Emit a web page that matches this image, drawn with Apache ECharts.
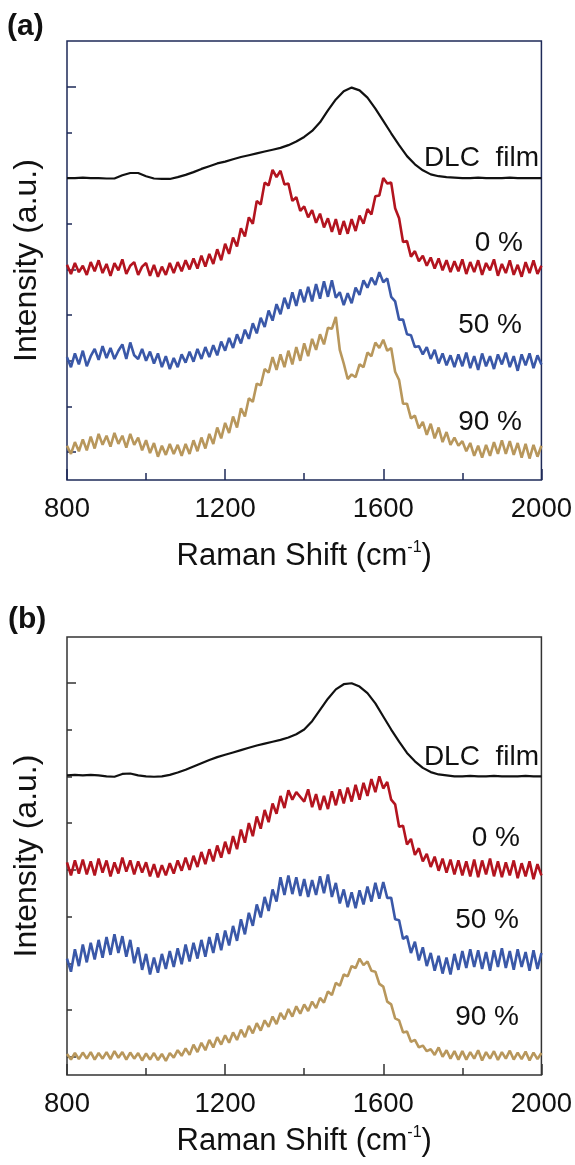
<!DOCTYPE html>
<html>
<head>
<meta charset="utf-8">
<title>raman</title>
<script src="https://cdn.jsdelivr.net/npm/echarts@6/dist/echarts.min.js"></script>
<style>
  html, body { margin: 0; padding: 0; background: #fff; }
  #main { width: 575px; height: 1165px; }
</style>
</head>
<body>
<div id="main"></div>
<script>
// Raman shift sampling: 800..2000, step 20 for DLC curves, step 10 for the noisy ones
var X_START = 800;
var seriesNames = ['DLC  film', '0 %', '50 %', '90 %'];
var colors = ['#111111', '#b3141f', '#3a58a8', '#b8975c'];

// ---- panel (a) ----
var dlcA = [6.00,6.00,6.01,6.00,6.00,5.99,5.99,6.06,6.11,6.11,6.04,5.99,5.98,5.98,6.02,6.07,6.13,6.20,6.26,6.32,
  6.36,6.41,6.46,6.50,6.54,6.58,6.62,6.66,6.72,6.80,6.90,7.03,7.22,7.48,7.72,7.90,7.98,7.92,7.76,7.52,
  7.25,6.98,6.72,6.48,6.30,6.17,6.08,6.04,6.02,6.01,6.00,6.00,6.01,6.00,6.00,6.00,6.01,6.00,6.00,6.00,6.00];
var p0A = [4.10,3.90,4.14,3.94,4.08,3.88,4.16,3.96,4.20,3.92,4.12,3.86,4.14,3.98,4.22,3.90,4.08,4.16,3.88,4.06,
  4.14,3.86,4.10,3.84,4.06,3.88,4.14,3.92,4.16,3.96,4.20,
  4.00,4.24,4.02,4.30,4.06,4.34,4.12,4.44,4.20,4.56,4.34,4.70,4.50,4.90,4.72,5.14,5.00,5.50,5.42,5.90,
  5.84,6.18,6.02,6.16,5.86,5.88,5.50,5.58,5.28,5.38,
  5.14,5.30,5.02,5.22,4.92,5.12,4.82,5.10,4.76,5.06,4.78,5.10,4.84,5.18,5.00,5.32,5.20,5.60,5.62,6.00,
  5.88,5.90,5.34,5.12,4.60,4.62,4.28,4.40,4.18,4.30,
  4.08,4.26,4.02,4.24,3.98,4.20,3.94,4.18,3.96,4.22,3.90,4.16,3.94,4.20,3.88,4.14,3.98,4.22,3.86,4.12,
  3.92,4.20,3.88,4.10,3.84,4.16,3.92,4.20,3.90,4.08];
var p50A = [2.08,1.86,2.16,1.92,2.22,1.88,2.10,2.26,2.02,2.32,2.06,2.28,2.04,2.22,2.36,2.04,2.40,2.12,2.04,2.26,
  2.00,2.20,1.94,2.16,1.86,2.10,1.82,2.06,1.86,2.14,1.96,
  2.20,1.98,2.26,2.04,2.30,2.08,2.34,2.12,2.42,2.22,2.50,2.28,2.58,2.38,2.68,2.48,2.82,2.60,2.94,2.74,
  3.10,2.88,3.24,3.02,3.38,3.14,3.50,3.20,3.56,3.28,
  3.62,3.30,3.68,3.36,3.74,3.40,3.76,3.38,3.50,3.22,3.48,3.26,3.60,3.44,3.76,3.60,3.82,3.66,3.94,3.72,
  3.80,3.40,3.30,2.90,2.90,2.58,2.56,2.30,2.32,2.14,
  2.30,2.04,2.24,1.94,2.16,1.90,2.12,1.86,2.14,1.88,2.18,1.84,2.10,1.80,2.16,1.88,2.10,1.82,2.14,1.92,
  2.18,1.86,2.10,1.78,2.14,1.90,2.16,1.84,2.12,1.92];
var p90A = [0.14,-0.04,0.22,0.02,0.28,0.04,0.34,0.08,0.40,0.16,0.36,0.12,0.42,0.18,0.36,0.10,0.40,0.16,0.32,0.04,
  0.26,-0.02,0.20,-0.10,0.14,-0.06,0.18,-0.04,0.16,-0.08,0.18,
  -0.04,0.26,0.02,0.32,0.08,0.40,0.18,0.54,0.30,0.64,0.42,0.78,0.54,0.96,0.78,1.18,1.10,1.50,1.46,1.82,
  1.74,2.08,1.80,2.14,1.86,2.22,1.92,2.30,2.00,2.38,
  2.10,2.48,2.24,2.58,2.36,2.72,2.70,2.96,2.24,1.94,1.60,1.70,1.64,1.92,1.86,2.18,2.10,2.40,2.28,2.46,
  2.22,2.28,1.76,1.58,1.06,1.06,0.74,0.80,0.52,0.66,
  0.38,0.62,0.30,0.54,0.22,0.44,0.16,0.32,0.14,0.24,0.02,0.20,-0.08,0.14,-0.12,0.16,-0.08,0.22,-0.04,0.26,
  -0.04,0.24,-0.06,0.20,-0.12,0.18,-0.14,0.16,-0.10,0.14];

// ---- panel (b) ----
var dlcB = [6.02,6.03,6.02,6.03,6.02,6.00,5.99,6.05,6.06,6.02,6.00,5.99,6.00,6.03,6.08,6.14,6.21,6.28,6.35,6.41,
  6.46,6.51,6.56,6.61,6.66,6.70,6.74,6.78,6.83,6.90,7.00,7.18,7.42,7.66,7.86,7.97,7.99,7.92,7.78,7.56,
  7.28,7.00,6.74,6.50,6.32,6.18,6.09,6.04,6.02,6.00,6.00,6.01,6.00,6.00,6.01,6.00,6.00,6.00,6.01,6.00,6.00];
var p0B = [4.16,3.88,4.20,3.92,4.22,3.90,4.18,3.88,4.24,3.94,4.20,3.86,4.16,3.92,4.26,3.96,4.20,3.90,4.18,3.94,
  4.16,3.86,4.12,3.84,4.10,3.88,4.14,3.92,4.20,3.98,4.26,
  4.00,4.30,4.06,4.38,4.12,4.44,4.18,4.52,4.26,4.60,4.34,4.72,4.44,4.86,4.58,5.00,4.72,5.14,4.88,5.28,
  5.02,5.42,5.20,5.58,5.32,5.70,5.50,5.66,5.56,5.46,
  5.72,5.34,5.62,5.28,5.58,5.30,5.68,5.38,5.72,5.42,5.76,5.46,5.82,5.50,5.86,5.58,5.94,5.66,6.00,5.74,
  5.88,5.50,5.40,4.92,4.94,4.54,4.66,4.32,4.46,4.18,
  4.34,4.06,4.28,3.98,4.24,3.94,4.22,3.90,4.20,3.88,4.18,3.86,4.22,3.84,4.20,3.90,4.24,3.86,4.18,3.84,
  4.16,3.88,4.20,3.82,4.14,3.86,4.18,3.80,4.12,3.88];
var p50B = [2.10,1.82,2.30,1.94,2.40,2.02,2.44,2.08,2.50,2.12,2.56,2.18,2.62,2.22,2.58,2.14,2.50,2.00,2.34,1.86,
  2.20,1.76,2.12,1.80,2.20,1.88,2.26,1.92,2.32,1.98,2.40,
  2.04,2.44,2.10,2.50,2.14,2.56,2.22,2.64,2.28,2.70,2.38,2.80,2.48,2.94,2.62,3.08,2.80,3.26,2.98,3.42,
  3.12,3.58,3.32,3.84,3.46,3.88,3.48,3.84,3.44,3.80,
  3.42,3.78,3.46,3.86,3.50,3.90,3.42,3.72,3.28,3.58,3.20,3.52,3.18,3.56,3.26,3.64,3.32,3.72,3.38,3.74,
  3.40,3.40,2.94,2.92,2.52,2.58,2.22,2.46,2.06,2.34,
  1.94,2.22,1.84,2.16,1.78,2.12,1.76,2.20,1.86,2.26,1.90,2.30,1.92,2.28,1.88,2.24,1.84,2.28,1.92,2.32,
  1.90,2.26,1.86,2.30,1.92,2.24,1.84,2.28,1.88,2.22];
var p90B = [0.06,-0.06,0.08,-0.05,0.09,-0.04,0.10,-0.06,0.08,-0.04,0.10,-0.05,0.12,-0.02,0.10,-0.06,0.09,-0.04,0.08,-0.08,
  0.07,-0.06,0.08,-0.07,0.06,-0.09,0.08,-0.02,0.14,0.02,0.18,
  0.04,0.26,0.10,0.30,0.14,0.36,0.20,0.42,0.26,0.46,0.30,0.52,0.36,0.58,0.42,0.66,0.50,0.72,0.56,0.78,
  0.64,0.86,0.70,0.94,0.80,1.02,0.86,1.08,0.92,1.12,
  0.98,1.18,1.04,1.26,1.16,1.40,1.32,1.58,1.52,1.76,1.72,1.94,1.90,2.10,1.96,2.04,1.84,1.82,1.56,1.50,
  1.18,1.12,0.82,0.78,0.52,0.54,0.32,0.36,0.20,0.24,
  0.12,0.16,0.04,0.20,0.00,0.14,-0.04,0.12,-0.06,0.12,-0.06,0.10,-0.04,0.14,-0.08,0.10,-0.04,0.12,-0.07,0.10,
  -0.04,0.13,-0.06,0.09,-0.05,0.11,-0.08,0.09,-0.05,0.08];

var yTickMajor = [0, 4, 8];
var yTickMinor = [1, 2, 3, 5, 6, 7];

function pairs(arr, step) {
  return arr.map(function (v, i) { return [X_START + i * step, v]; });
}

var chart = echarts.init(document.getElementById('main'));
var FONT = '"Liberation Sans", Arial, Helvetica, sans-serif';
var FS = 27.5;
var FRAME = ['#1e2a58', '#333333'];

function xAx(gi) {
  var c = FRAME[gi];
  return {
    type: 'value', gridIndex: gi, min: 800, max: 2000, interval: 400,
    name: 'Raman Shift (cm{sup|-1})', nameLocation: 'middle', nameGap: gi === 0 ? 60 : 50,
    nameTextStyle: { fontFamily: FONT, fontSize: 31, color: '#111',
      rich: { sup: { fontFamily: FONT, fontSize: 16, color: '#111', verticalAlign: 'top', padding: [0, 0, 16, 0] } } },
    axisLine: { show: false, onZero: false },
    axisTick: { inside: true, length: 11, lineStyle: { color: c, width: 1.5 } },
    minorTick: { show: true, splitNumber: 2, length: 7, lineStyle: { color: c, width: 1.5 } },
    axisLabel: { fontFamily: FONT, fontSize: FS, color: '#111', margin: 15,
      formatter: function (v) { return String(v); } },
    splitLine: { show: false }
  };
}
function yAx(gi, min, max, minor) {
  var c = FRAME[gi];
  var ax = {
    type: 'value', gridIndex: gi, min: min, max: max, position: 'left',
    axisLine: { show: false, onZero: false },
    axisTick: { inside: true, length: minor ? 5 : 9, customValues: minor ? yTickMinor : yTickMajor,
      lineStyle: { color: c, width: 1.5 } },
    axisLabel: { show: false },
    splitLine: { show: false }
  };
  if (!minor) {
    ax.name = 'Intensity (a.u.)';
    ax.nameLocation = 'middle';
    ax.nameGap = 24;
    ax.nameTextStyle = { fontFamily: FONT, fontSize: 32, color: '#111' };
  }
  return ax;
}

var data = [
  [pairs(dlcA, 20), pairs(p0A, 10), pairs(p50A, 10), pairs(p90A, 10)],
  [pairs(dlcB, 20), pairs(p0B, 10), pairs(p50B, 10), pairs(p90B, 10)]
];
var series = [];
data.forEach(function (panel, gi) {
  panel.forEach(function (d, k) {
    series.push({
      type: 'line', name: seriesNames[k], xAxisIndex: gi, yAxisIndex: gi * 2,
      data: d, showSymbol: false, silent: true,
      lineStyle: { color: colors[k], width: k === 0 ? 2.2 : 2.6 }
    });
  });
});

function txt(x, y, s, align, bold, size) {
  return { type: 'text', x: x, y: y,
    style: { text: s, fontFamily: FONT, fontSize: size || 28, fontWeight: bold ? 'bold' : 'normal', fill: '#111',
      align: align, verticalAlign: 'middle' } };
}

var option = {
  animation: false,
  grid: [
    { left: 67, top: 41, width: 476, height: 439, show: true, borderColor: FRAME[0], borderWidth: 1.5, backgroundColor: 'transparent' },
    { left: 67, top: 637, width: 475, height: 438, show: true, borderColor: FRAME[1], borderWidth: 1.5, backgroundColor: 'transparent' }
  ],
  xAxis: [xAx(0), xAx(1)],
  yAxis: [yAx(0, -0.61, 9.0, false), yAx(0, -0.61, 9.0, true), yAx(1, -0.39, 8.98, false), yAx(1, -0.39, 8.98, true)],
  series: series,
  graphic: [
    txt(7, 27, '(a)', 'left', true, 30),
    txt(8, 620, '(b)', 'left', true, 30),
    txt(539, 158, seriesNames[0], 'right'),
    txt(523, 243, seriesNames[1], 'right'),
    txt(522, 325, seriesNames[2], 'right'),
    txt(522, 422, seriesNames[3], 'right'),
    txt(539, 757, seriesNames[0], 'right'),
    txt(520, 838, seriesNames[1], 'right'),
    txt(519, 920, seriesNames[2], 'right'),
    txt(519, 1017, seriesNames[3], 'right')
  ]
};
chart.setOption(option);
</script>
</body>
</html>
